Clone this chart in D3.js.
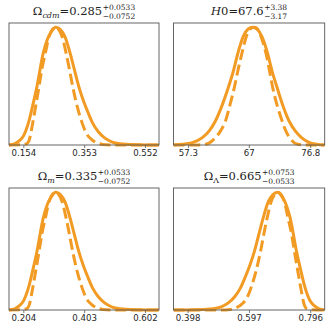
<!DOCTYPE html>
<html>
<head>
<meta charset="utf-8">
<script src="https://cdn.jsdelivr.net/npm/d3@7"></script>
<style>
  body { margin: 0; background: #fff; }
  svg { display: block; }
</style>
</head>
<body>
<div id="chart"></div>
<script>
// posterior curves (x = parameter value, y = normalised density)

// Omega_cdm
const cdmSolidX = [0.107, 0.125, 0.140, 0.155, 0.172, 0.185, 0.198, 0.219, 0.233, 0.245, 0.260, 0.275, 0.290, 0.307, 0.320, 0.335, 0.350, 0.365, 0.380, 0.400, 0.420, 0.445, 0.480, 0.530, 0.598];
const cdmSolidY = [0.0, 0.01, 0.035, 0.08, 0.2, 0.34, 0.49, 0.78, 0.9, 0.96, 1.0, 0.98, 0.92, 0.78, 0.65, 0.5, 0.38, 0.28, 0.19, 0.11, 0.06, 0.025, 0.008, 0.002, 0.0];
const cdmDashX = [0.107, 0.150, 0.165, 0.172, 0.186, 0.195, 0.205, 0.215, 0.226, 0.238, 0.250, 0.260, 0.270, 0.281, 0.294, 0.305, 0.316, 0.330, 0.346, 0.360, 0.376, 0.395, 0.414, 0.450, 0.598];
const cdmDashY = [0.0, 0.002, 0.012, 0.034, 0.206, 0.34, 0.49, 0.65, 0.78, 0.92, 0.985, 1.0, 0.98, 0.92, 0.78, 0.64, 0.49, 0.33, 0.19, 0.10, 0.05, 0.018, 0.005, 0.0, 0.0];

// H0
const h0SolidX = [55.0, 56.4, 58.0, 59.6, 60.7, 61.7, 62.7, 63.75, 64.5, 65.25, 66.1, 66.9, 67.6, 68.4, 69.1, 70.0, 70.7, 71.5, 72.4, 73.4, 74.4, 75.4, 76.5, 77.8, 79.1];
const h0SolidY = [0.0, 0.006, 0.02, 0.063, 0.12, 0.206, 0.33, 0.49, 0.62, 0.777, 0.92, 0.985, 1.0, 0.98, 0.92, 0.777, 0.63, 0.49, 0.34, 0.206, 0.12, 0.063, 0.025, 0.006, 0.0];
const h0DashX = [55.0, 59.0, 60.1, 61.7, 62.5, 63.3, 64.0, 64.7, 65.3, 65.9, 66.6, 67.2, 67.9, 68.4, 68.95, 69.75, 70.3, 70.8, 71.5, 72.3, 72.9, 73.5, 74.8, 76.0, 79.1];
const h0DashY = [0.0, 0.001, 0.006, 0.063, 0.12, 0.206, 0.34, 0.49, 0.64, 0.777, 0.92, 0.985, 1.0, 0.985, 0.92, 0.777, 0.63, 0.49, 0.34, 0.206, 0.12, 0.063, 0.006, 0.001, 0.0];

// Omega_m
const mSolidX = [0.157, 0.175, 0.190, 0.205, 0.222, 0.235, 0.248, 0.269, 0.283, 0.295, 0.310, 0.325, 0.340, 0.357, 0.370, 0.385, 0.400, 0.415, 0.430, 0.450, 0.470, 0.495, 0.530, 0.580, 0.648];
const mSolidY = [0.0, 0.01, 0.035, 0.08, 0.2, 0.34, 0.49, 0.78, 0.9, 0.96, 1.0, 0.98, 0.92, 0.78, 0.65, 0.5, 0.38, 0.28, 0.19, 0.11, 0.06, 0.025, 0.008, 0.002, 0.0];
const mDashX = [0.157, 0.200, 0.215, 0.222, 0.236, 0.245, 0.255, 0.265, 0.276, 0.288, 0.300, 0.310, 0.320, 0.331, 0.344, 0.355, 0.366, 0.380, 0.396, 0.410, 0.426, 0.445, 0.464, 0.500, 0.648];
const mDashY = [0.0, 0.002, 0.012, 0.034, 0.206, 0.34, 0.49, 0.65, 0.78, 0.92, 0.985, 1.0, 0.98, 0.92, 0.78, 0.64, 0.49, 0.33, 0.19, 0.10, 0.05, 0.018, 0.005, 0.0, 0.0];

// Omega_Lambda
const lamSolidX = [0.352, 0.420, 0.470, 0.505, 0.530, 0.550, 0.570, 0.585, 0.600, 0.615, 0.630, 0.643, 0.660, 0.675, 0.690, 0.705, 0.717, 0.731, 0.752, 0.765, 0.778, 0.795, 0.810, 0.825, 0.843];
const lamSolidY = [0.0, 0.002, 0.008, 0.025, 0.06, 0.11, 0.19, 0.28, 0.38, 0.5, 0.65, 0.78, 0.92, 0.98, 1.0, 0.96, 0.9, 0.78, 0.49, 0.34, 0.2, 0.08, 0.035, 0.01, 0.0];
const lamDashX = [0.352, 0.500, 0.536, 0.555, 0.574, 0.590, 0.604, 0.620, 0.634, 0.645, 0.656, 0.669, 0.680, 0.690, 0.700, 0.712, 0.724, 0.735, 0.745, 0.755, 0.764, 0.778, 0.785, 0.800, 0.843];
const lamDashY = [0.0, 0.0, 0.005, 0.018, 0.05, 0.10, 0.19, 0.33, 0.49, 0.64, 0.78, 0.92, 0.98, 1.0, 0.985, 0.92, 0.78, 0.65, 0.49, 0.34, 0.206, 0.034, 0.012, 0.002, 0.0];

// axis ranges and tick labels
const xDomains = [[0.107, 0.598], [55.0, 79.1], [0.157, 0.648], [0.352, 0.843]];
const tickValues = [[0.154, 0.353, 0.552], [57.3, 67, 76.8], [0.204, 0.403, 0.602], [0.398, 0.597, 0.796]];
const tickLabels = [["0.154", "0.353", "0.552"], ["57.3", "67", "76.8"], ["0.204", "0.403", "0.602"], ["0.398", "0.597", "0.796"]];

// titles: symbol, subscript, value, upper error, lower error
const titleSymbols = ["Ω", "H", "Ω", "Ω"];
const titleSubs = ["cdm", "", "m", "Λ"];
const titleValues = ["=0.285", "0=67.6", "=0.335", "=0.665"];
const titleUpper = ["+0.0533", "+3.38", "+0.0533", "+0.0753"];
const titleLower = ["−0.0752", "−3.17", "−0.0752", "−0.0533"];

const curves = [
  { sx: cdmSolidX, sy: cdmSolidY, dx: cdmDashX, dy: cdmDashY },
  { sx: h0SolidX, sy: h0SolidY, dx: h0DashX, dy: h0DashY },
  { sx: mSolidX, sy: mSolidY, dx: mDashX, dy: mDashY },
  { sx: lamSolidX, sy: lamSolidY, dx: lamDashX, dy: lamDashY }
];

const W = 333, H = 332;
const color = "#f29b24";
const serif = "'DejaVu Serif', 'Liberation Serif', serif";
// panel frames
const boxes = [
  { x0: 9, x1: 159, y0: 23, y1: 145 },
  { x0: 173.5, x1: 324.7, y0: 23, y1: 145 },
  { x0: 9, x1: 159, y0: 188, y1: 310 },
  { x0: 173.5, x1: 324.7, y0: 188, y1: 310 }
];

const svg = d3.select("#chart").append("svg")
  .attr("width", W).attr("height", H);

boxes.forEach((b, i) => {
  const x = d3.scaleLinear().domain(xDomains[i]).range([b.x0, b.x1]);
  const y = d3.scaleLinear().domain([0, 1.036]).range([b.y1, b.y0]);
  const c = curves[i];

  const g = svg.append("g");

  const clipId = "clip" + i;
  g.append("clipPath").attr("id", clipId)
    .append("rect").attr("x", b.x0).attr("y", b.y0 - 2)
    .attr("width", b.x1 - b.x0).attr("height", b.y1 - b.y0 + 4);

  const line = d3.line()
    .x(d => x(d[0])).y(d => y(d[1]))
    .curve(d3.curveMonotoneX);

  // solid first, dashed on top
  g.append("path")
    .datum(d3.zip(c.sx, c.sy))
    .attr("clip-path", `url(#${clipId})`)
    .attr("d", line)
    .attr("fill", "none").attr("stroke", color)
    .attr("stroke-width", 3).attr("stroke-linejoin", "round");

  g.append("path")
    .datum(d3.zip(c.dx, c.dy))
    .attr("clip-path", `url(#${clipId})`)
    .attr("d", line)
    .attr("fill", "none").attr("stroke", color)
    .attr("stroke-width", 3).attr("stroke-dasharray", "11,4.8");

  // frame
  g.append("rect")
    .attr("x", b.x0).attr("y", b.y0)
    .attr("width", b.x1 - b.x0).attr("height", b.y1 - b.y0)
    .attr("fill", "none").attr("stroke", "#555").attr("stroke-width", 0.9);

  // x axis
  const axis = d3.axisBottom(x)
    .tickValues(tickValues[i])
    .tickFormat((d, k) => tickLabels[i][k])
    .tickSize(3).tickPadding(2);
  const ax = g.append("g")
    .attr("transform", `translate(0,${b.y1})`)
    .call(axis);
  ax.select(".domain").remove();
  ax.selectAll(".tick line").attr("stroke", "#555").attr("stroke-width", 0.8);
  ax.selectAll(".tick text")
    .attr("font-family", "DejaVu Sans, sans-serif")
    .attr("font-size", 8.6).attr("fill", "#262626");

  // title with stacked errors
  const tg = g.append("g");
  const base = b.y0 - 8;
  const t = tg.append("text")
    .attr("x", 0).attr("y", base)
    .attr("font-family", serif)
    .attr("font-size", 11.5).attr("fill", "#222");
  t.append("tspan").text(titleSymbols[i])
    .attr("font-style", i === 1 ? "italic" : "normal");
  if (titleSubs[i]) {
    t.append("tspan").text(titleSubs[i])
      .attr("font-size", 8).attr("dy", 2.5)
      .attr("font-style", titleSubs[i] === "Λ" ? "normal" : "italic");
    t.append("tspan").text(titleValues[i]).attr("dy", -2.5);
  } else {
    t.append("tspan").text(titleValues[i]);
  }
  const mw = t.node().getComputedTextLength();
  const sup = tg.append("text").text(titleUpper[i])
    .attr("x", mw + 0.5).attr("y", base - 5.5)
    .attr("font-family", serif)
    .attr("font-size", 7.5).attr("fill", "#222");
  const sub = tg.append("text").text(titleLower[i])
    .attr("x", mw + 0.5).attr("y", base + 3.5)
    .attr("font-family", serif)
    .attr("font-size", 7.5).attr("fill", "#222");
  const tw = mw + 0.5 + Math.max(sup.node().getComputedTextLength(), sub.node().getComputedTextLength());
  tg.attr("transform", `translate(${(b.x0 + b.x1) / 2 - tw / 2},0)`);
});
</script>
</body>
</html>
